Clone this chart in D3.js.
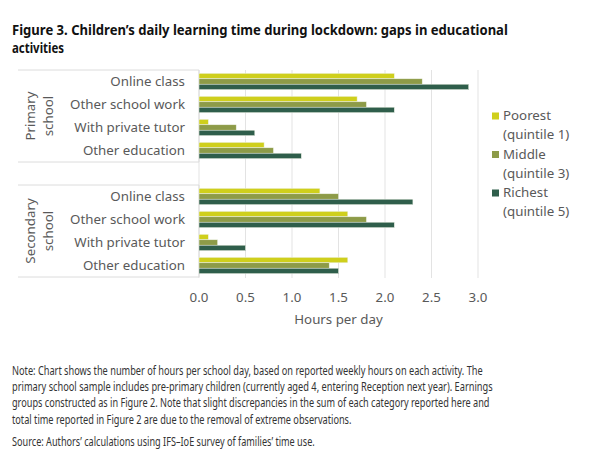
<!DOCTYPE html>
<html>
<head>
<meta charset="utf-8">
<script src="https://cdn.jsdelivr.net/npm/d3@7"></script>
<style>
  body { margin: 0; background: #fff; }
  text { font-family: "Noto Sans", "Open Sans", sans-serif; }
</style>
</head>
<body>
<svg class="canvas" width="600" height="461"></svg>
<script>
// data (hours per school day)
var groups = ['Primary school', 'Secondary school'];
var activities = ['Online class', 'Other school work', 'With private tutor', 'Other education'];
var seriesNames = ['Poorest', 'Middle', 'Richest'];
var seriesSub = ['(quintile 1)', '(quintile 3)', '(quintile 5)'];
var primaryPoorest = [2.1, 1.7, 0.1, 0.7];
var primaryMiddle = [2.4, 1.8, 0.4, 0.8];
var primaryRichest = [2.9, 2.1, 0.6, 1.1];
var secondaryPoorest = [1.3, 1.6, 0.1, 1.6];
var secondaryMiddle = [1.5, 1.8, 0.2, 1.4];
var secondaryRichest = [2.3, 2.1, 0.5, 1.5];
var xTicks = [0, 0.5, 1, 1.5, 2, 2.5, 3];

var colors = ['#cfcf1c', '#8d9b48', '#2f5e4b'];
var grey = '#595959';

var svg = d3.select('.canvas');

// squeeze a text horizontally to a target width (the original uses a condensed face)
function fitText(sel, x, y, width) {
    var natural = sel.node().getComputedTextLength();
    var sx = Math.min(1, width / natural);
    sel.attr('x', 0).attr('y', 0)
        .attr('transform', 'translate(' + x + ',' + y + ') scale(' + sx + ',1)');
}

// title
var titleLines = [
    ['Figure 3. Children\u2019s daily learning time during lockdown: gaps in educational', 496],
    ['activities', 52]
];
var title = svg.append('g').attr('class', 'title');
titleLines.forEach(function (t, i) {
    var txt = title.append('text')
        .style('font-size', '14.5px').style('font-weight', 'bold').attr('fill', '#111')
        .text(t[0]);
    fitText(txt, 12, 35 + i * 18, t[1]);
});

// rows: 4 primary, one blank slot, 4 secondary
var rows = [];
activities.forEach(function (a) { rows.push('p|' + a); });
rows.push('gap');
activities.forEach(function (a) { rows.push('s|' + a); });

var data = [];
activities.forEach(function (a, i) {
    data.push({row: 'p|' + a, values: [primaryPoorest[i], primaryMiddle[i], primaryRichest[i]]});
    data.push({row: 's|' + a, values: [secondaryPoorest[i], secondaryMiddle[i], secondaryRichest[i]]});
});

var x = d3.scaleLinear().domain([0, 3]).range([199, 478]);
var y = d3.scaleBand().domain(rows).range([70, 277]);
var ySub = d3.scaleBand().domain(d3.range(3)).range([0, y.bandwidth()]).paddingOuter(0.62);

var chart = svg.append('g').attr('class', 'chart');

// gridlines
chart.selectAll('.grid').data(xTicks).enter().append('line')
    .attr('class', 'grid')
    .attr('x1', d => x(d)).attr('x2', d => x(d))
    .attr('y1', 70).attr('y2', 278)
    .attr('stroke', '#e3e3e3').attr('stroke-width', 1);

// group brackets
groups.forEach(function (g, gi) {
    var key = gi === 0 ? 'p|' : 's|';
    var top = y(key + activities[0]);
    var bottom = y(key + activities[activities.length - 1]) + y.bandwidth();
    chart.append('path')
        .attr('d', 'M18,' + top + 'H' + x(0) + 'V' + bottom + 'H18')
        .attr('fill', 'none').attr('stroke', '#dcdcdc').attr('stroke-width', 1);

    var words = g.split(' ');
    var cy = (top + bottom) / 2;
    words.forEach(function (w, wi) {
        chart.append('text')
            .attr('transform', 'translate(' + (35 + wi * 18) + ',' + cy + ') rotate(-90)')
            .attr('text-anchor', 'middle')
            .attr('fill', grey).style('font-size', '13.3px')
            .text(w);
    });
});

// category labels
chart.selectAll('.cat').data(rows.filter(r => r !== 'gap')).enter().append('text')
    .attr('class', 'cat')
    .attr('x', 185)
    .attr('y', d => y(d) + y.bandwidth() / 2 + 4.5)
    .attr('text-anchor', 'end')
    .attr('fill', grey).style('font-size', '13.3px')
    .text(d => d.split('|')[1]);

// bars
var rowG = chart.selectAll('.row').data(data).enter().append('g')
    .attr('class', 'row')
    .attr('transform', d => 'translate(0,' + y(d.row) + ')');

rowG.selectAll('rect').data(d => d.values).enter().append('rect')
    .attr('x', x(0))
    .attr('y', (d, i) => ySub(i))
    .attr('width', d => x(d) - x(0))
    .attr('height', ySub.bandwidth())
    .attr('fill', (d, i) => colors[i])
    .attr('stroke', '#eef2e6').attr('stroke-width', 0.5);

// x axis labels
chart.selectAll('.tick-label').data(xTicks).enter().append('text')
    .attr('class', 'tick-label')
    .attr('x', d => x(d)).attr('y', 302)
    .attr('text-anchor', 'middle')
    .attr('fill', grey).style('font-size', '13.3px')
    .text(d => d3.format('.1f')(d));

chart.append('text')
    .attr('x', (x(0) + x(3)) / 2).attr('y', 324)
    .attr('text-anchor', 'middle')
    .attr('fill', grey).style('font-size', '13.3px')
    .text('Hours per day');

// legend
var legend = svg.append('g').attr('class', 'legend');
seriesNames.forEach(function (s, i) {
    var top = 120 + i * 38.5;
    legend.append('rect')
        .attr('x', 492).attr('y', top - 7.5)
        .attr('width', 7).attr('height', 7)
        .attr('fill', colors[i]);
    legend.append('text').attr('x', 503).attr('y', top)
        .attr('fill', grey).style('font-size', '13.3px').text(s);
    legend.append('text').attr('x', 503).attr('y', top + 19)
        .attr('fill', grey).style('font-size', '13.3px').text(seriesSub[i]);
});

// notes
var notes = [
    ['Note: Chart shows the number of hours per school day, based on reported weekly hours on each activity. The', 471],
    ['primary school sample includes pre-primary children (currently aged 4, entering Reception next year). Earnings', 481],
    ['groups constructed as in Figure 2. Note that slight discrepancies in the sum of each category reported here and', 478],
    ['total time reported in Figure 2 are due to the removal of extreme observations.', 340]
];
var noteG = svg.append('g').attr('class', 'notes');
notes.forEach(function (n, i) {
    var txt = noteG.append('text')
        .attr('fill', '#333').style('font-size', '12px')
        .text(n[0]);
    fitText(txt, 12, 375 + i * 16.2, n[1]);
});
var source = noteG.append('text')
    .attr('fill', '#333').style('font-size', '12px')
    .text('Source: Authors\u2019 calculations using IFS\u2013IoE survey of families\u2019 time use.');
fitText(source, 12, 446, 303);
</script>
</body>
</html>
